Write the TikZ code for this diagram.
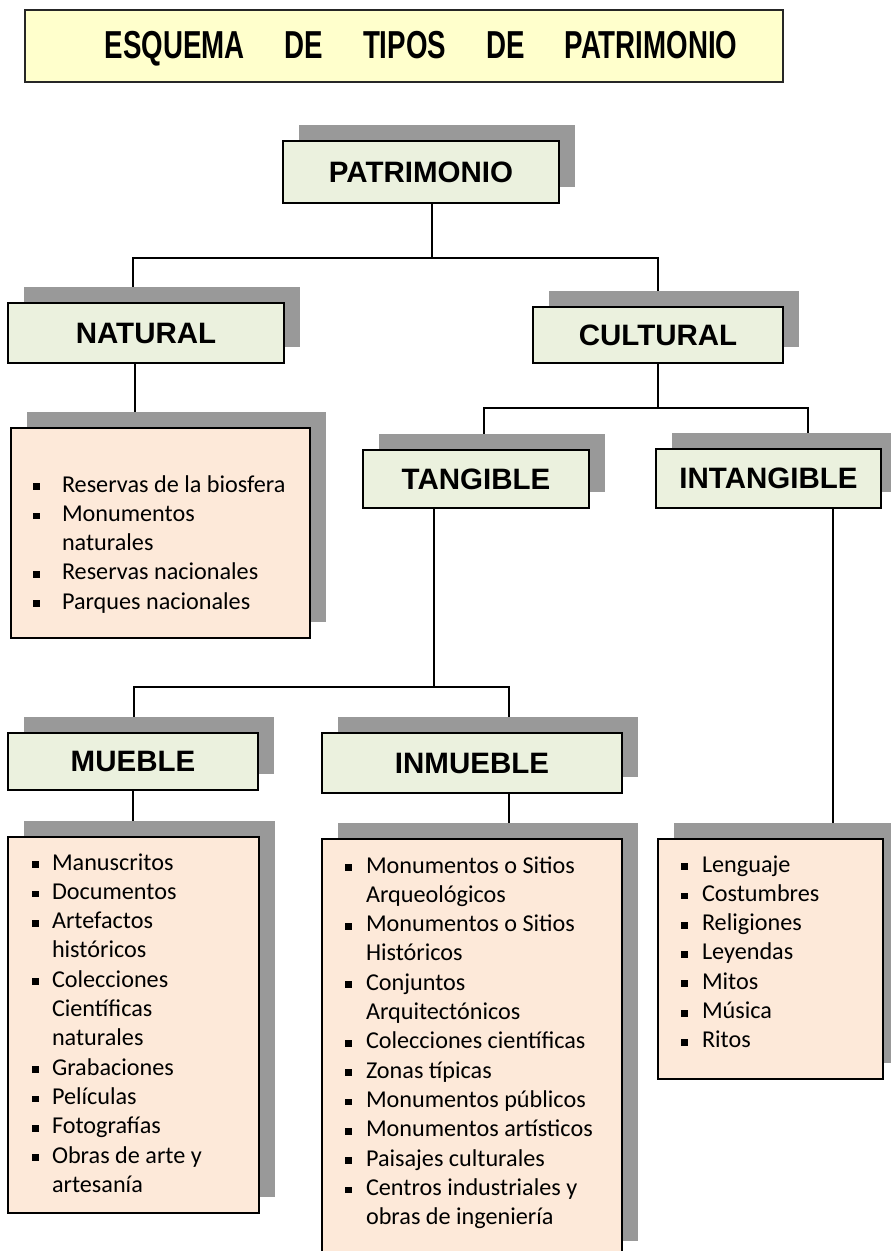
\documentclass[tikz,border=0pt]{standalone}
\usepackage{fontspec}
\setmainfont{Carlito}
\newfontfamily\labfont{Liberation Sans}
\usepackage{graphicx}
\usetikzlibrary{shadows,backgrounds,calc}
\definecolor{boxgreen}{HTML}{EBF1DE}
\definecolor{boxpeach}{HTML}{FDE9D9}
\definecolor{boxyellow}{HTML}{FFFFCC}
\definecolor{shadowgray}{HTML}{999999}
\newcommand{\blt}{\rule[2pt]{6.8pt}{6.8pt}}
\newcommand{\tw}[1]{\scalebox{0.71}[1]{#1}}
\newcommand{\tgap}{\hspace{40pt}}
\tikzset{
  shdw/.style={drop shadow={shadow xshift=16pt, shadow yshift=16pt, fill=shadowgray, opacity=1}},
  lab/.style={draw=black, line width=2pt, fill=boxgreen, inner sep=0pt, outer sep=0pt,
    font=\labfont\bfseries\fontsize{29.5}{34}\selectfont, shdw},
  listbox/.style={draw=black, line width=2pt, fill=boxpeach, inner sep=0pt, outer sep=0pt, shdw},
  listtext/.style={anchor=base west, inner sep=0pt, outer sep=0pt, font=\fontsize{24.2}{29.3}\selectfont},
  titlebox/.style={draw=black!85, line width=2pt, fill=boxyellow, inner sep=0pt, outer sep=0pt},
  titletext/.style={anchor=base, inner sep=0pt, font=\labfont\bfseries\fontsize{39}{46}\selectfont},
  conn/.style={line width=1.5pt, draw=black}
}
\begin{document}
\begin{tikzpicture}[x=1pt,y=-1pt]
\useasboundingbox (0,0) rectangle (891,1251);
\clip (0,0) rectangle (891,1251);

\node[titlebox, minimum width=758pt, minimum height=72pt] (title) at (404,46) {};
\node[titletext] (titlelabel) at (421,58)
  {\tw{ESQUEMA}\tgap\tw{DE}\tgap\tw{TIPOS}\tgap\tw{DE}\tgap\tw{PATRIMONIO}};

\node[lab, minimum width=276pt, minimum height=62pt] (pat) at (421,172) {PATRIMONIO};
\node[lab, minimum width=276pt, minimum height=60pt] (nat) at (146,333) {NATURAL};
\node[lab, minimum width=250pt, minimum height=56pt] (cult) at (658,335) {CULTURAL};
\node[lab, minimum width=226pt, minimum height=58pt] (tang) at (476,479) {TANGIBLE};
\node[lab, minimum width=225pt, minimum height=59pt] (intang) at (768.5,478.5) {INTANGIBLE};
\node[lab, minimum width=250pt, minimum height=57pt] (mueb) at (133,761.5) {MUEBLE};
\node[lab, minimum width=300pt, minimum height=60pt] (inmueb) at (472,763) {INMUEBLE};

\node[listbox, minimum width=299pt, minimum height=210pt] (natlist) at (160.5,533) {};
\node[listbox, minimum width=251pt, minimum height=376pt] (mlist) at (133.5,1025) {};
\node[listbox, minimum width=300pt, minimum height=418pt] (ilist) at (472,1048) {};
\node[listbox, minimum width=225pt, minimum height=240pt] (intlist) at (770.5,959) {};

\node[listtext] (natitems) at (33,492) {\begin{tabular}[t]{@{}p{29pt}@{}l@{}}
\blt & Reservas de la biosfera\\
\blt & Monumentos\\
     & naturales\\
\blt & Reservas nacionales\\
\blt & Parques nacionales
\end{tabular}};

\node[listtext] (mitems) at (32,870) {\begin{tabular}[t]{@{}p{20pt}@{}l@{}}
\blt & Manuscritos\\
\blt & Documentos\\
\blt & Artefactos\\
     & históricos\\
\blt & Colecciones\\
     & Científicas\\
     & naturales\\
\blt & Grabaciones\\
\blt & Películas\\
\blt & Fotografías\\
\blt & Obras de arte y\\
     & artesanía
\end{tabular}};

\node[listtext] (iitems) at (345,873) {\begin{tabular}[t]{@{}p{21pt}@{}l@{}}
\blt & Monumentos o Sitios\\
     & Arqueológicos\\
\blt & Monumentos o Sitios\\
     & Históricos\\
\blt & Conjuntos\\
     & Arquitectónicos\\
\blt & Colecciones científicas\\
\blt & Zonas típicas\\
\blt & Monumentos públicos\\
\blt & Monumentos artísticos\\
\blt & Paisajes culturales\\
\blt & Centros industriales y\\
     & obras de ingeniería
\end{tabular}};

\node[listtext] (intitems) at (681,872) {\begin{tabular}[t]{@{}p{21pt}@{}l@{}}
\blt & Lenguaje\\
\blt & Costumbres\\
\blt & Religiones\\
\blt & Leyendas\\
\blt & Mitos\\
\blt & Música\\
\blt & Ritos
\end{tabular}};

\begin{scope}[on background layer]
\draw[conn] ([xshift=11pt]pat.south) -- ++(0,55) coordinate (j1) -| ([xshift=-13pt]nat.north);
\draw[conn] (j1) -| (cult.north);
\draw[conn] (cult.south) -- ++(0,45) coordinate (j2) -| ([xshift=8pt]tang.north);
\draw[conn] (j2) -| ([xshift=39.5pt]intang.north);
\draw[conn] ([xshift=-11pt]nat.south) -- ([xshift=-11pt]nat.south |- natlist.north);
\draw[conn] ([xshift=-42pt]tang.south) -- ++(0,179) coordinate (j3) -| ([xshift=1pt]mueb.north);
\draw[conn] (j3) -| ([xshift=37pt]inmueb.north);
\draw[conn] (mueb.south) -- (mueb.south |- mlist.north);
\draw[conn] ([xshift=37pt]inmueb.south) -- ([xshift=37pt]inmueb.south |- ilist.north);
\draw[conn] ([xshift=64.5pt]intang.south) -- ([xshift=64.5pt]intang.south |- intlist.north);
\end{scope}
\end{tikzpicture}
\end{document}
